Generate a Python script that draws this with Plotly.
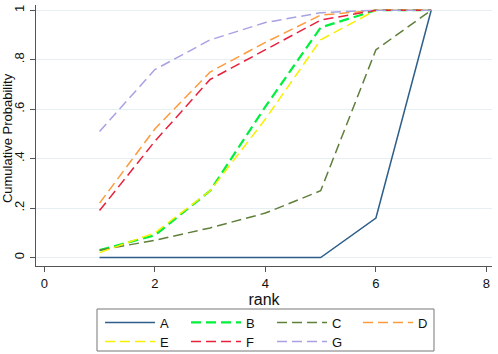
import plotly.graph_objects as go

ranks = [1, 2, 3, 4, 5, 6, 7]
A = [0.0, 0.0, 0.0, 0.0, 0.0, 0.16, 1.0]
B = [0.03, 0.09, 0.27, 0.61, 0.93, 1.0, 1.0]
C = [0.03, 0.07, 0.12, 0.18, 0.27, 0.84, 1.0]
D = [0.22, 0.52, 0.75, 0.87, 0.98, 1.0, 1.0]
E = [0.02, 0.10, 0.27, 0.56, 0.88, 1.0, 1.0]
F = [0.19, 0.47, 0.72, 0.84, 0.96, 1.0, 1.0]
G = [0.51, 0.76, 0.88, 0.95, 0.99, 1.0, 1.0]

series = [
    ("A", A, "#2e5f8a", "solid", 1.5, "legend"),
    ("B", B, "#00f03c", "10px,5px", 2.2, "legend"),
    ("C", C, "#5f7f3a", "10px,5px", 1.5, "legend"),
    ("D", D, "#ff9a3c", "10px,5px", 1.5, "legend"),
    ("E", E, "#f8f000", "10px,5px", 1.5, "legend2"),
    ("F", F, "#e8203c", "10px,5px", 1.5, "legend2"),
    ("G", G, "#a8a2e4", "10px,5px", 1.5, "legend2"),
]

x_ticks = [0, 2, 4, 6, 8]
y_ticks = [0, 0.2, 0.4, 0.6, 0.8, 1.0]
y_tick_labels = ["0", ".2", ".4", ".6", ".8", "1"]
x_title = "rank"
y_title = "Cumulative Probability"

fig = go.Figure()
for name, vals, color, dash, w, lg in series:
    fig.add_trace(go.Scatter(x=ranks, y=vals, name=name, mode="lines", legend=lg,
                             line=dict(color=color, dash=dash, width=w)))

leg_common = dict(orientation="h", xanchor="left", yanchor="top", x=0.1404,
                  borderwidth=0, entrywidth=21, entrywidthmode="pixels", itemwidth=50,
                  font=dict(size=13), bgcolor="rgba(0,0,0,0)")

fig.update_layout(
    width=498, height=354,
    margin=dict(l=36, r=6, t=5, b=88, autoexpand=False),
    paper_bgcolor="white", plot_bgcolor="white",
    font=dict(family="Liberation Sans, Arial, sans-serif", size=13, color="#111"),
    showlegend=True,
    legend=dict(y=-0.159, **leg_common),
    legend2=dict(y=-0.232, **leg_common),
    shapes=[dict(type="rect", xref="paper", yref="paper", x0=0.1338, x1=0.8728,
                 y0=-0.3257, y1=-0.1648, line=dict(color="#777", width=1),
                 fillcolor="rgba(0,0,0,0)", layer="below")],
    annotations=[dict(text=y_title, xref="paper", yref="paper", x=-0.0636, y=0.49,
                      xanchor="center", yanchor="middle", textangle=-90, showarrow=False,
                      font=dict(size=13))],
)
fig.update_xaxes(range=[-0.15, 8.1], tickvals=x_ticks, showgrid=False, zeroline=False,
                 showline=True, linecolor="#555", linewidth=1, ticks="outside", ticklen=5,
                 tickcolor="#555", automargin=False,
                 title=dict(text=x_title, standoff=2))
fig.update_yaxes(range=[-0.034, 1.021], tickvals=y_ticks, ticktext=y_tick_labels,
                 tickangle=-90, showgrid=True, gridcolor="#e6eff1", gridwidth=1, zeroline=False,
                 showline=True, linecolor="#555", linewidth=1, ticks="outside", ticklen=5,
                 tickcolor="#555", automargin=False, ticklabelstandoff=1)

fig.write_html("out.html", config={"displayModeBar": False},
               post_script="document.body.style.margin='0';document.body.style.padding='0';")
